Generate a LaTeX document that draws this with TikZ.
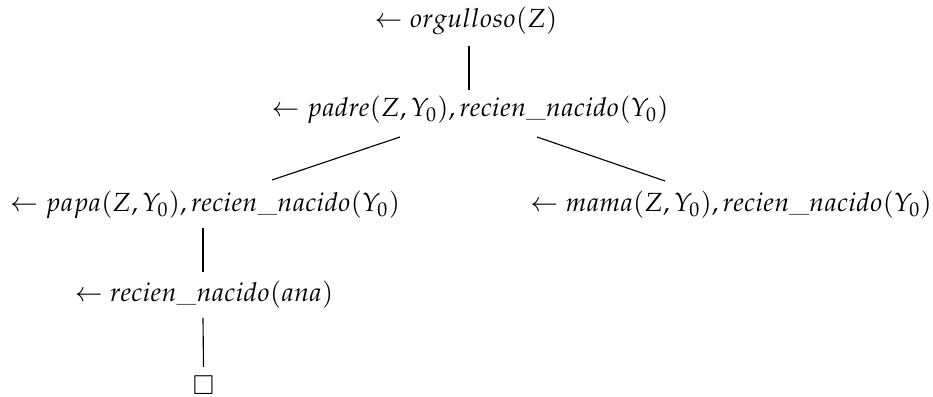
\documentclass[tikz,border=0pt]{standalone}
\usepackage{amssymb}
\usepackage{mathpazo}
\usetikzlibrary{calc}
\begin{document}
\begin{tikzpicture}[x=0.4pt,y=-0.4pt,
  goal/.style={anchor=base,inner sep=0pt,outer sep=0pt,font=\fontsize{10.5pt}{12pt}\selectfont},
  edge/.style={line width=0.45pt}]
\useasboundingbox (0,0) rectangle (933,397);
\node[goal] (n1) at (466,28) {$\leftarrow orgulloso(Z)$};
\node[goal] (n2) at (470,117) {$\leftarrow padre(Z,Y_0),recien\_nacido(Y_0)$};
\node[goal] (n3) at (205,212) {$\leftarrow papa(Z,Y_0),recien\_nacido(Y_0)$};
\node[goal] (n4) at (731,212) {$\leftarrow mama(Z,Y_0),recien\_nacido(Y_0)$};
\node[goal] (n5) at (204,302) {$\leftarrow recien\_nacido(ana)$};
\node[goal,anchor=center] (n6) at (203.5,385) {$\square$};
\draw[edge] ($(n1.base)+(3,18)$) -- ($(n2.base)+(-1,-27)$);
\draw[edge] ($(n2.base)+(-70,20)$) -- ($(n3.base)+(67,-32)$);
\draw[edge] ($(n2.base)+(67,20)$) -- ($(n4.base)+(-66,-31)$);
\draw[edge] ($(n3.base)+(-2,16)$) -- ($(n5.base)+(-1,-30)$);
\draw[edge] ($(n5.base)+(-1,16)$) -- ($(n6.north)+(0,-9)$);
\end{tikzpicture}
\end{document}
